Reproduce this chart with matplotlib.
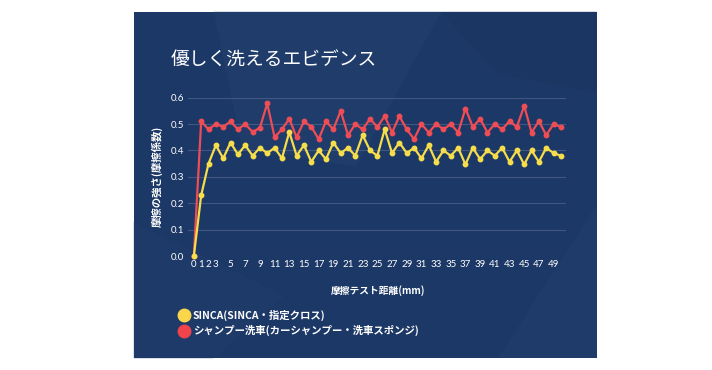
import matplotlib
matplotlib.use("Agg")
import matplotlib.pyplot as plt
from matplotlib.patches import Rectangle, Polygon
from matplotlib.lines import Line2D

plt.rcParams['font.family'] = ['Lato', 'Noto Sans CJK JP', 'DejaVu Sans']

# データ
distance = list(range(51))
sinca = [0.0, 0.23, 0.35, 0.42, 0.37, 0.43, 0.385, 0.42, 0.38, 0.41,
         0.39, 0.41, 0.37, 0.47, 0.38, 0.42, 0.357, 0.40, 0.367, 0.43,
         0.39, 0.41, 0.38, 0.458, 0.40, 0.38, 0.48, 0.39, 0.43, 0.39,
         0.41, 0.37, 0.42, 0.357, 0.40, 0.38, 0.41, 0.347, 0.41, 0.367,
         0.40, 0.38, 0.41, 0.357, 0.40, 0.347, 0.40, 0.357, 0.41, 0.39,
         0.38]
shampoo = [0.0, 0.51, 0.48, 0.50, 0.49, 0.51, 0.48, 0.50, 0.47, 0.486,
           0.578, 0.45, 0.48, 0.52, 0.45, 0.51, 0.49, 0.443, 0.51, 0.48,
           0.55, 0.458, 0.50, 0.48, 0.52, 0.489, 0.53, 0.468, 0.53, 0.48,
           0.443, 0.50, 0.468, 0.50, 0.48, 0.50, 0.468, 0.559, 0.489, 0.52,
           0.468, 0.50, 0.48, 0.511, 0.489, 0.569, 0.468, 0.511, 0.458, 0.50,
           0.489]
x_ticks = [0, 1, 2, 3] + list(range(5, 50, 2))
y_ticks = [0.0, 0.1, 0.2, 0.3, 0.4, 0.5, 0.6]

title = '優しく洗えるエビデンス'
x_label = '摩擦テスト距離(mm)'
y_label = '摩擦の強さ(摩擦係数)'
labels = ['SINCA(SINCA・指定クロス)', 'シャンプー洗車(カーシャンプー・洗車スポンジ)']
colors = ['#f6dd4c', '#ef4d55']
legend_colors = ['#f9d64b', '#ef444c']

fig = plt.figure(figsize=(7.12, 3.70), dpi=100)
fig.patch.set_facecolor('white')

# 背景パネル
panel_x, panel_y, panel_w, panel_h = 0.188, 0.032, 0.650, 0.936
fig.patches.append(Rectangle((panel_x, panel_y), panel_w, panel_h,
                             transform=fig.transFigure, facecolor='#1c3866',
                             edgecolor='none', zorder=-10))
# うっすらとした模様
shapes = [
    ([(0.30, 0.968), (0.62, 0.968), (0.50, 0.55), (0.34, 0.60)], '#1f3c6b'),
    ([(0.62, 0.968), (0.838, 0.968), (0.838, 0.75), (0.70, 0.80)], '#1b3663'),
    ([(0.188, 0.40), (0.40, 0.20), (0.30, 0.032), (0.188, 0.032)], '#1e3a69'),
    ([(0.70, 0.032), (0.838, 0.032), (0.838, 0.45)], '#1e3b69'),
]
for pts, c in shapes:
    fig.patches.append(Polygon(pts, closed=True, transform=fig.transFigure,
                               facecolor=c, edgecolor='none', zorder=-9))

ax = fig.add_axes([0.264, 0.308, 0.531, 0.428])
ax.set_zorder(5)
ax.patch.set_alpha(0)

# 赤を先に描いて黄色を上に
ax.plot(distance, shampoo, color=colors[1], lw=1.6, marker='o', markersize=3.2,
        zorder=3, clip_on=False)
ax.plot(distance, sinca, color=colors[0], lw=1.6, marker='o', markersize=3.2,
        zorder=4, clip_on=False)

ax.set_xlim(-0.8, 50.7)
ax.set_ylim(0, 0.6)
ax.set_xticks(x_ticks)
ax.set_xticklabels([str(t) for t in x_ticks])
ax.set_yticks(y_ticks)
ax.set_yticklabels([f'{t:.1f}' for t in y_ticks])
ax.tick_params(colors='white', labelsize=7, length=0, pad=3)
ax.grid(axis='y', color='#5c7399', alpha=0.55, lw=0.8)
for s in ax.spines.values():
    s.set_visible(False)
ax.set_axisbelow(True)

fig.text(0.239, 0.838, title, color='white', fontsize=13.5,
         family='Noto Sans CJK JP', ha='left', va='center')
fig.text(0.221, 0.522, y_label, color='white', fontsize=7.5,
         family='Noto Sans CJK JP', weight='bold', rotation=90,
         ha='center', va='center')
fig.text(0.531, 0.214, x_label, color='white', fontsize=7,
         family=['Noto Sans CJK JP', 'DejaVu Sans'], weight='bold',
         ha='center', va='center')

handles = [Line2D([], [], marker='o', linestyle='none', markersize=9,
                  markerfacecolor=c, markeredgecolor=c) for c in legend_colors]
leg = fig.legend(handles, labels, loc='upper left',
                 bbox_to_anchor=(0.245, 0.175), frameon=False,
                 handletextpad=0.35, labelspacing=0.45, handlelength=1.0,
                 borderaxespad=0,
                 prop={'family': 'Noto Sans CJK JP', 'size': 7.5,
                       'weight': 'bold'})
for t in leg.get_texts():
    t.set_color('white')

fig.savefig('out.png', dpi=100)
